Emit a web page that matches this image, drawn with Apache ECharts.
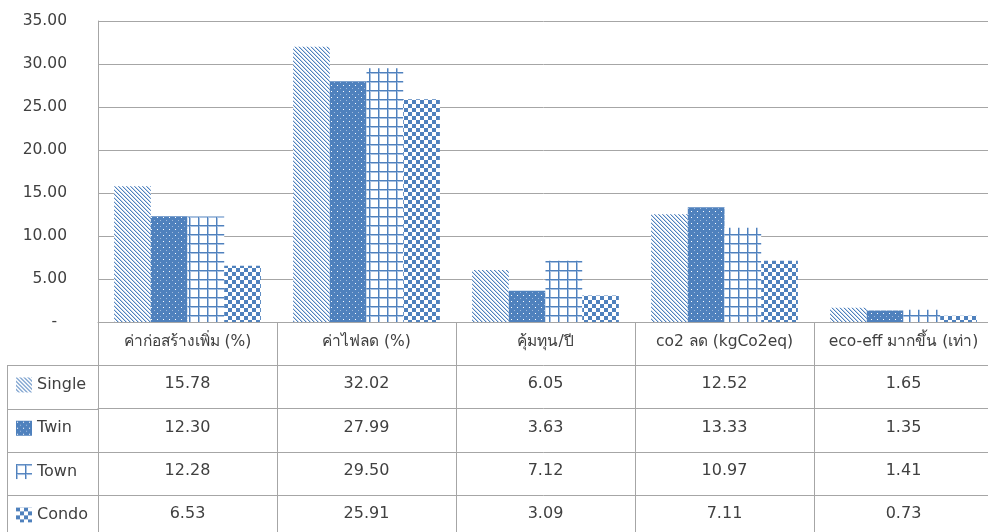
<!DOCTYPE html>
<html>
<head>
<meta charset="utf-8">
<script src="https://cdn.jsdelivr.net/npm/echarts@6/dist/echarts.min.js"></script>
<style>
  html, body { margin: 0; padding: 0; background: #fff; }
  #chart { width: 988px; height: 532px; }
</style>
</head>
<body>
<div id="chart"></div>
<script>
// Categories (table column headers) and the four housing types
const categories = ['ค่าก่อสร้างเพิ่ม (%)', 'ค่าไฟลด (%)', 'คุ้มทุน/ปี', 'co2 ลด (kgCo2eq)', 'eco-eff มากขึ้น (เท่า)'];
const seriesNames = ['Single', 'Twin', 'Town', 'Condo'];
const single = [15.78, 32.02, 6.05, 12.52, 1.65];
const twin   = [12.30, 27.99, 3.63, 13.33, 1.35];
const town   = [12.28, 29.50, 7.12, 10.97, 1.41];
const condo  = [6.53, 25.91, 3.09, 7.11, 0.73];
const yTicks = [0, 5, 10, 15, 20, 25, 30, 35];

const BLUE = '#4f81bd';
const LIGHT = '#a9c2e2';
const TEXT = '#404040';
const LINE = '#a6a6a6';
const FONT = "'DejaVu Sans', Tahoma, 'Noto Sans', sans-serif";

// --- fill patterns -------------------------------------------------------
function makeCanvas(w, h, draw) {
  const c = document.createElement('canvas');
  c.width = w; c.height = h;
  const ctx = c.getContext('2d');
  draw(ctx, w, h);
  return c;
}
function px(ctx, x, y, col) { ctx.fillStyle = col; ctx.fillRect(x, y, 1, 1); }

// wide downward diagonal
const diagPattern = makeCanvas(4, 4, (ctx, w, h) => {
  ctx.fillStyle = '#fff'; ctx.fillRect(0, 0, w, h);
  for (let y = 0; y < h; y++) for (let x = 0; x < w; x++) {
    const d = ((x - y) % 4 + 4) % 4;
    if (d === 0) px(ctx, x, y, BLUE);
    else if (d === 1) px(ctx, x, y, '#c2d4ea');
  }
});
// dotted solid
const dotPattern = makeCanvas(6, 6, (ctx, w, h) => {
  ctx.fillStyle = BLUE; ctx.fillRect(0, 0, w, h);
  px(ctx, 1, 1, '#ffffff');
  px(ctx, 4, 4, '#9fbade');
});
// large grid
const gridPattern = makeCanvas(9, 9, (ctx, w, h) => {
  ctx.fillStyle = '#fff'; ctx.fillRect(0, 0, w, h);
  ctx.fillStyle = LIGHT; ctx.fillRect(1, 0, 1, h); ctx.fillRect(0, 1, w, 1);
  ctx.fillStyle = BLUE; ctx.fillRect(0, 0, 1, h); ctx.fillRect(0, 0, w, 1);
});
// large checkerboard
const checkPattern = makeCanvas(8, 8, (ctx, w, h) => {
  ctx.fillStyle = '#fff'; ctx.fillRect(0, 0, w, h);
  ctx.fillStyle = BLUE; ctx.fillRect(0, 0, 4, 4); ctx.fillRect(4, 4, 4, 4);
});

const patterns = [diagPattern, dotPattern, gridPattern, checkPattern];
const values = [single, twin, town, condo];

// --- layout -------------------------------------------------------------
const GRID_LEFT = 98, GRID_TOP = 21, GRID_BOTTOM_Y = 322;
const GRID_WIDTH = 895;
const ROW_H = 43.3;
const TABLE_LEFT = 7;

const chart = echarts.init(document.getElementById('chart'), null, { renderer: 'canvas' });

const tableAxisCommon = {
  type: 'category',
  gridIndex: 0,
  position: 'bottom',
  data: categories,
  boundaryGap: true,
  axisLine: { show: true, lineStyle: { color: LINE, width: 1 } },
  axisTick: { show: true, interval: 0, length: ROW_H, inside: false, lineStyle: { color: LINE, width: 1 } },
  splitLine: { show: false }
};

const xAxes = [
  Object.assign({}, tableAxisCommon, {
    offset: 0,
    axisLabel: { interval: 0, margin: 11, color: TEXT, fontSize: 15.5, fontFamily: FONT, lineHeight: 18 }
  })
];
values.forEach((arr, k) => {
  xAxes.push(Object.assign({}, tableAxisCommon, {
    offset: ROW_H * (k + 1),
    axisLabel: {
      interval: 0, margin: 10, color: TEXT, fontSize: 16, fontFamily: FONT, lineHeight: 18,
      formatter: (v, i) => arr[i].toFixed(2)
    }
  }));
});

// left header column lines of the data table
const graphics = [];
for (let r = 1; r <= 4; r++) {
  const y = GRID_BOTTOM_Y + ROW_H * r;
  graphics.push({
    type: 'line', silent: true,
    shape: { x1: TABLE_LEFT, y1: Math.round(y) + 0.5, x2: GRID_LEFT, y2: Math.round(y) + 0.5 },
    style: { stroke: LINE, lineWidth: 1 }
  });
}
graphics.push({
  type: 'line', silent: true,
  shape: { x1: TABLE_LEFT + 0.5, y1: Math.round(GRID_BOTTOM_Y + ROW_H), x2: TABLE_LEFT + 0.5, y2: 540 },
  style: { stroke: LINE, lineWidth: 1 }
});

chart.setOption({
  animation: false,
  backgroundColor: '#ffffff',
  textStyle: { fontFamily: FONT },
  grid: {
    left: GRID_LEFT, top: GRID_TOP, width: GRID_WIDTH, height: GRID_BOTTOM_Y - GRID_TOP,
    containLabel: false,
    outerBoundsMode: 'none'
  },
  legend: {
    orient: 'vertical',
    left: 16,
    top: GRID_BOTTOM_Y + ROW_H + (ROW_H - 16) / 2 - 2,
    padding: 0,
    itemWidth: 16,
    itemHeight: 15,
    itemGap: ROW_H - 16,
    selectedMode: false,
    icon: 'rect',
    textStyle: { color: TEXT, fontSize: 16, fontFamily: FONT, lineHeight: 16 },
    data: seriesNames
  },
  xAxis: xAxes,
  yAxis: {
    type: 'value',
    min: yTicks[0],
    max: yTicks[yTicks.length - 1],
    interval: 5,
    axisLine: { show: true, lineStyle: { color: LINE, width: 1 } },
    axisTick: { show: false },
    splitLine: { show: true, lineStyle: { color: LINE, width: 1 } },
    axisLabel: {
      margin: 31, color: TEXT, fontSize: 15.5, fontFamily: FONT,
      formatter: v => (v === 0 ? '-  ' : v.toFixed(2))
    }
  },
  series: seriesNames.map((name, k) => ({
    name: name,
    type: 'bar',
    xAxisIndex: 0,
    data: values[k],
    barGap: '0%',
    barCategoryGap: '18%',
    itemStyle: { color: { image: patterns[k], repeat: 'repeat' } }
  })),
  graphic: graphics
});
</script>
</body>
</html>
